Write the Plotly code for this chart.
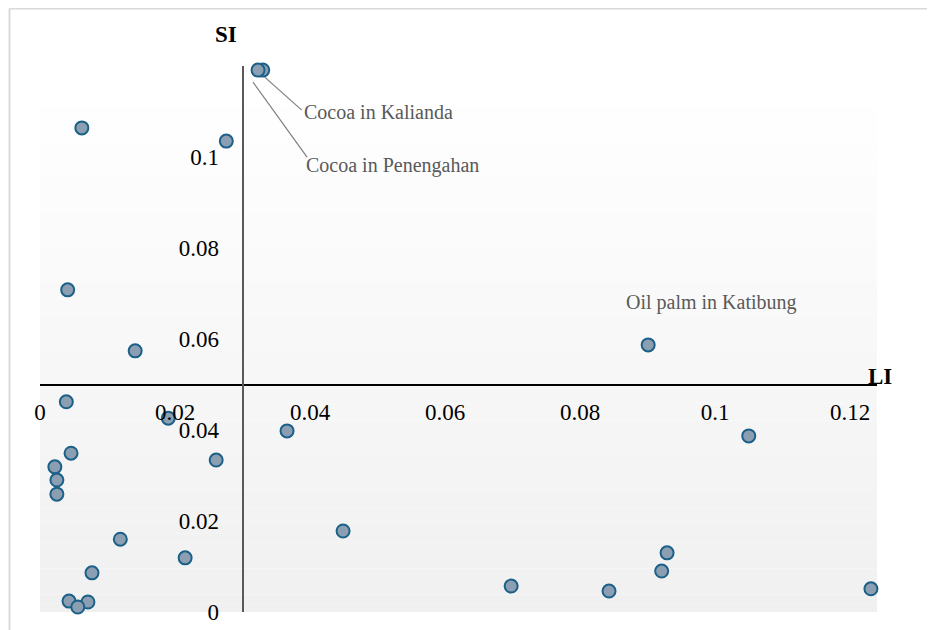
import plotly.graph_objects as go

# ---------------- data ----------------
li_values = [0.0062, 0.0276, 0.0330, 0.0323, 0.0041, 0.0141, 0.0901, 0.0039,
             0.0190, 0.0366, 0.1050, 0.0046, 0.0261, 0.0022, 0.0025, 0.0025,
             0.0449, 0.0119, 0.0929, 0.0215, 0.0921, 0.0077, 0.0698, 0.1231,
             0.0843, 0.0043, 0.0071, 0.0056]
si_values = [0.1064, 0.1035, 0.1191, 0.1191, 0.0708, 0.0574, 0.0587, 0.0462,
             0.0426, 0.0398, 0.0387, 0.0349, 0.0334, 0.0319, 0.0290, 0.0259,
             0.0178, 0.0160, 0.0130, 0.0119, 0.0090, 0.0086, 0.0057, 0.0051,
             0.0046, 0.0024, 0.0022, 0.0011]

labels = ["Cocoa in Kalianda", "Cocoa in Penengahan", "Oil palm in Katibung"]
label_li = [0.0330, 0.0323, 0.0901]
label_si = [0.1191, 0.1191, 0.0587]

x_ticks = [0, 0.02, 0.04, 0.06, 0.08, 0.1, 0.12]
x_tick_text = ["0", "0.02", "0.04", "0.06", "0.08", "0.1", "0.12"]
y_ticks = [0, 0.02, 0.04, 0.06, 0.08, 0.1]
y_tick_text = ["0", "0.02", "0.04", "0.06", "0.08", "0.1"]

x_range = [0, 0.124]
y_range = [0, 0.12]
cross_x = 0.03   # vertical axis crosses at LI = 0.03
cross_y = 0.05   # horizontal axis crosses at SI = 0.05

# ---------------- layout geometry (page has an 8px body margin) ----------------
W, H = 927, 622
ML, MR, MT, MB = 32, 58, 58, 18
PW, PH = W - ML - MR, H - MT - MB

SERIF = "Liberation Serif, Times New Roman, serif"

fig = go.Figure()

fig.add_trace(go.Scatter(
    x=li_values, y=si_values, mode="markers",
    marker=dict(size=13, color="#8c9fb2", line=dict(color="#1b6088", width=2)),
    cliponaxis=False, showlegend=False, hoverinfo="x+y",
))

shapes = []
# gradient plot background (starts a little below the top of the axis)
grad_top = 1 - 24 / PH
n_bands = 60
top_c, bot_c = 255, 240
for i in range(n_bands):
    t = (i + 0.5) / n_bands
    c = round(top_c + (bot_c - top_c) * t)
    y1 = grad_top * (1 - i / n_bands)
    y0 = grad_top * (1 - (i + 1) / n_bands)
    shapes.append(dict(type="rect", xref="paper", yref="paper",
                       x0=0, x1=1, y0=y0, y1=y1,
                       fillcolor=f"rgb({c},{c},{c})", line=dict(width=0),
                       layer="below"))

# outer chart frame (light grey)
fx = (1.5 - ML) / PW
fy = (H - MB - 0.5) / PH
shapes.append(dict(type="line", xref="paper", yref="paper", x0=fx, x1=1.2, y0=fy, y1=fy,
                   line=dict(color="#d9d9d9", width=2)))
shapes.append(dict(type="line", xref="paper", yref="paper", x0=fx, x1=fx, y0=fy, y1=-0.2,
                   line=dict(color="#d9d9d9", width=2)))

# leader lines for labelled points (pixel offsets from the points)
leader_offsets = [(2, -7, 39, -40), (-5, -12, 49, -87)]
for k, (a0, b0, a1, b1) in enumerate(leader_offsets):
    shapes.append(dict(type="line", xref="x", yref="y",
                       xsizemode="pixel", ysizemode="pixel",
                       xanchor=label_li[k], yanchor=label_si[k],
                       x0=a0, y0=b0, x1=a1, y1=b1,
                       line=dict(color="#7f7f7f", width=1.2)))

annotations = []
label_shift = [(39, -42, "left"), (46, -95, "left"), (63, 42, "center")]
for k, txt in enumerate(labels):
    dx, dy, xa = label_shift[k]
    annotations.append(dict(x=label_li[k], y=label_si[k], xref="x", yref="y",
                            text=txt, showarrow=False, xanchor=xa, yanchor="middle",
                            xshift=dx, yshift=dy,
                            font=dict(family=SERIF, size=20, color="#595959")))

# axis titles
annotations.append(dict(x=cross_x, y=1, xref="x", yref="paper", text="<b>SI</b>",
                        showarrow=False, xanchor="center", yanchor="middle",
                        xshift=-17, yshift=32,
                        font=dict(family=SERIF, size=23, color="#000000")))
annotations.append(dict(x=1, y=cross_y, xref="paper", yref="y", text="<b>LI</b>",
                        showarrow=False, xanchor="center", yanchor="middle",
                        xshift=3, yshift=8,
                        font=dict(family=SERIF, size=23, color="#000000")))

fig.update_layout(
    width=W, height=H, autosize=False,
    margin=dict(l=ML, r=MR, t=MT, b=MB, autoexpand=False),
    paper_bgcolor="white", plot_bgcolor="white",
    shapes=shapes, annotations=annotations,
    xaxis=dict(range=x_range, tickvals=x_ticks, ticktext=x_tick_text,
               showgrid=False, zeroline=False, showline=True, automargin=False,
               linecolor="#000000", linewidth=1.5,
               anchor="free", position=(cross_y - y_range[0]) / (y_range[1] - y_range[0]),
               ticks="", ticklabelstandoff=7,
               tickfont=dict(family=SERIF, size=23, color="#000000")),
    yaxis=dict(range=y_range, tickvals=y_ticks, ticktext=y_tick_text,
               showgrid=False, zeroline=False, showline=True, automargin=False,
               linecolor="#595959", linewidth=2,
               anchor="free", position=(cross_x - x_range[0]) / (x_range[1] - x_range[0]),
               ticks="", ticklabelstandoff=18,
               tickfont=dict(family=SERIF, size=23, color="#000000")),
)

fig.write_html("out.html")
